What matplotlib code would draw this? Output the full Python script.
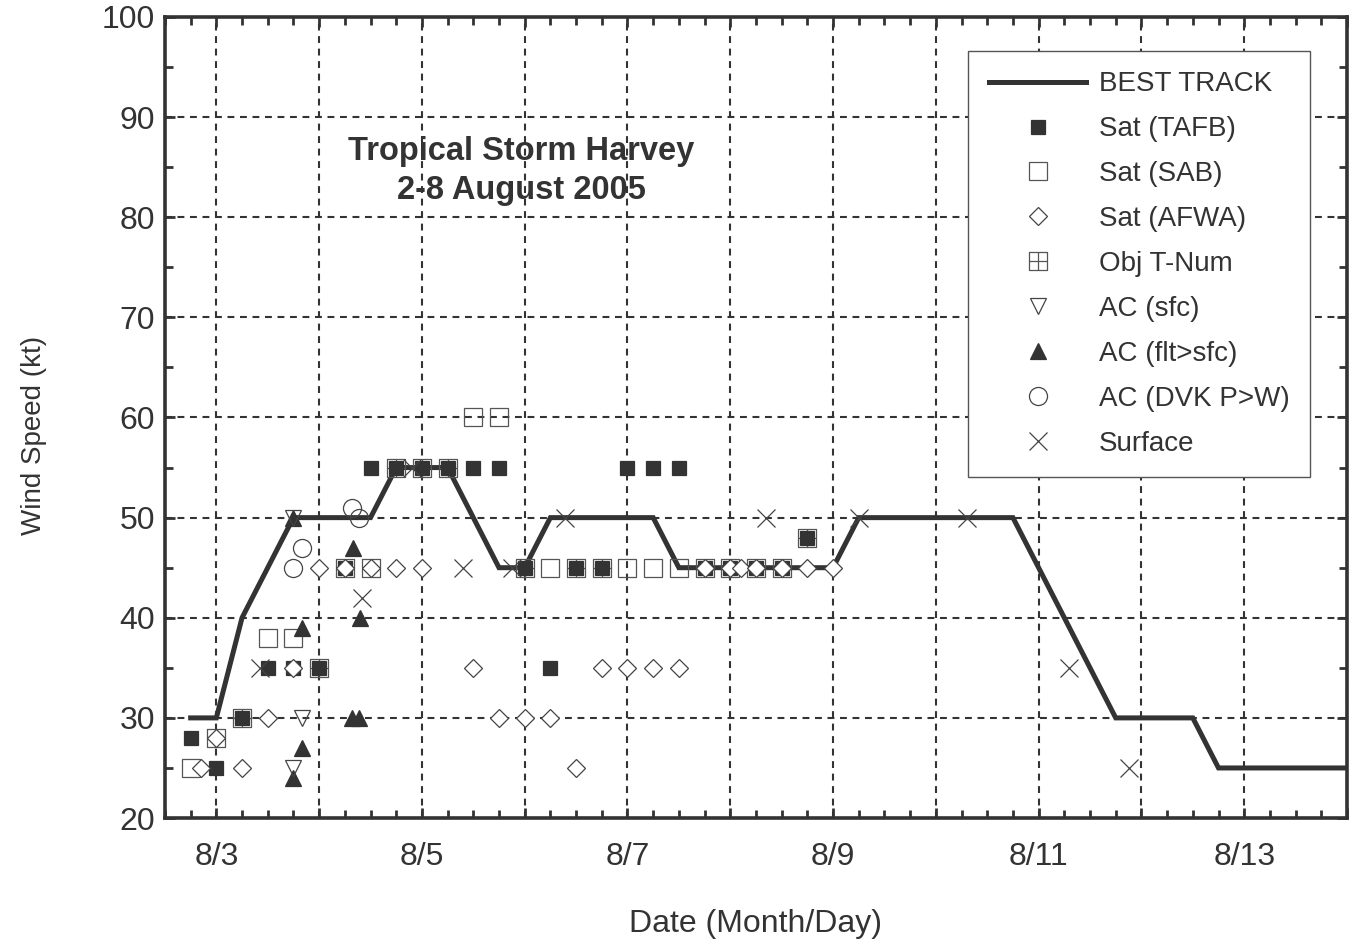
"""
Tropical Storm Harvey (2-8 August 2005) 风速观测与最佳路径对比图
"""

import matplotlib
matplotlib.use("Agg")
import matplotlib.pyplot as plt
from matplotlib.path import Path
from matplotlib.ticker import MultipleLocator, FixedLocator, FixedFormatter

plt.rcParams["font.family"] = ["Liberation Sans", "DejaVu Sans"]

# ============== 数据（日期用 8 月的小数日表示） ==============
bt_day = [2.75, 3.0, 3.25, 3.5, 3.75, 4.0, 4.25, 4.5, 4.75, 5.0, 5.25, 5.5,
          5.75, 6.0, 6.25, 6.5, 6.75, 7.0, 7.25, 7.5, 7.75, 8.0, 8.25, 8.5,
          8.75, 9.0, 9.25, 9.5, 9.75, 10.0, 10.25, 10.5, 10.75, 11.0, 11.25,
          11.5, 11.75, 12.0, 12.25, 12.5, 12.75, 13.0, 13.25, 13.5, 13.75, 14.0]
bt_wind = [30, 30, 40, 45, 50, 50, 50, 50, 55, 55, 55, 50,
           45, 45, 50, 50, 50, 50, 50, 45, 45, 45, 45, 45,
           45, 45, 50, 50, 50, 50, 50, 50, 50, 45, 40,
           35, 30, 30, 30, 30, 25, 25, 25, 25, 25, 25]

tafb_day = [2.75, 3.0, 3.25, 3.5, 3.75, 4.0, 4.25, 4.5, 4.75, 5.0, 5.25, 5.5,
            5.75, 6.0, 6.25, 6.5, 6.75, 7.0, 7.25, 7.5, 7.75, 8.0, 8.25, 8.5, 8.75]
tafb_wind = [28, 25, 30, 35, 35, 35, 45, 55, 55, 55, 55, 55,
             55, 45, 35, 45, 45, 55, 55, 55, 45, 45, 45, 45, 48]

sab_day = [2.75, 3.5, 3.75, 5.5, 5.75, 6.25, 7.0, 7.25, 7.5]
sab_wind = [25, 38, 38, 60, 60, 45, 45, 45, 45]

afwa_day = [2.85, 3.0, 3.25, 3.5, 3.75, 4.0, 4.25, 4.5, 4.75, 5.0, 5.5, 5.75,
            6.0, 6.25, 6.5, 6.75, 7.0, 7.25, 7.5, 7.75, 8.0, 8.1, 8.25, 8.5,
            8.75, 9.0]
afwa_wind = [25, 28, 25, 30, 35, 45, 45, 45, 45, 45, 35, 30,
             30, 30, 25, 35, 35, 35, 35, 45, 45, 45, 45, 45,
             45, 45]

objt_day = [3.0, 3.25, 4.0, 4.25, 4.5, 4.75, 5.0, 5.25, 6.0, 6.5, 6.75,
            7.75, 8.0, 8.25, 8.5, 8.75]
objt_wind = [28, 30, 35, 45, 45, 55, 55, 55, 45, 45, 45,
             45, 45, 45, 45, 48]

ac_sfc_day = [3.75, 3.75, 3.83]
ac_sfc_wind = [50, 25, 30]

ac_flt_day = [3.75, 3.75, 3.83, 3.83, 4.33, 4.4, 4.32, 4.39]
ac_flt_wind = [50, 24, 39, 27, 47, 40, 30, 30]

ac_dvk_day = [3.75, 3.83, 4.32, 4.39]
ac_dvk_wind = [45, 47, 51, 50]

sfc_day = [3.42, 4.42, 4.9, 5.4, 5.88, 6.39, 8.35, 9.25, 10.3, 11.3, 11.88]
sfc_wind = [35, 42, 55, 45, 45, 50, 50, 50, 50, 35, 25]

tick_days = [3, 4, 5, 6, 7, 8, 9, 10, 11, 12, 13, 14]
tick_labels = ["8/3", "", "8/5", "", "8/7", "", "8/9", "", "8/11", "", "8/13", ""]

DARK = "#333333"

# Obj T-Num 标记：带十字的方框
objt_marker = Path(
    [(-1, -1), (1, -1), (1, 1), (-1, 1), (-1, -1), (0, -1), (0, 1), (-1, 0), (1, 0)],
    [Path.MOVETO, Path.LINETO, Path.LINETO, Path.LINETO, Path.CLOSEPOLY,
     Path.MOVETO, Path.LINETO, Path.MOVETO, Path.LINETO],
)

# ============== 画布 ==============
fig = plt.figure(figsize=(13.61, 9.42), dpi=100)
ax = fig.add_axes([0.1212, 0.1316, 0.8685, 0.8504])

# 最佳路径
ax.plot(bt_day, bt_wind, color=DARK, lw=3.6, label="BEST TRACK", zorder=3,
        solid_joinstyle="miter")

mk = dict(linestyle="none", markeredgewidth=0.9)
ax.plot(tafb_day, tafb_wind, marker="s", ms=10, color=DARK, mec=DARK,
        label="Sat (TAFB)", zorder=6, **mk)
ax.plot(sab_day, sab_wind, marker="s", ms=12.5, mfc="none", mec="#555555",
        label="Sat (SAB)", zorder=5, **mk)
ax.plot(afwa_day, afwa_wind, marker="D", ms=9.5, mfc="white", mec="#444444",
        label="Sat (AFWA)", zorder=7, **mk)
ax.plot(objt_day, objt_wind, marker=objt_marker, ms=12.5, mfc="none", mec="#555555",
        label="Obj T-Num", zorder=4, **mk)
ax.plot(ac_sfc_day, ac_sfc_wind, marker="v", ms=12, mfc="none", mec="#444444",
        label="AC (sfc)", zorder=8, **mk)
ax.plot(ac_flt_day, ac_flt_wind, marker="^", ms=12, color=DARK, mec=DARK,
        label="AC (flt>sfc)", zorder=7, **mk)
ax.plot(ac_dvk_day, ac_dvk_wind, marker="o", ms=13, mfc="none", mec="#444444",
        label="AC (DVK P>W)", zorder=7, **mk)
ax.plot(sfc_day, sfc_wind, marker="x", ms=13, color="#444444",
        label="Surface", zorder=6, **mk)

# ============== 坐标轴 ==============
ax.set_xlim(2.5, 14.0)
ax.set_ylim(20, 100)
ax.xaxis.set_major_locator(FixedLocator(tick_days))
ax.xaxis.set_major_formatter(FixedFormatter(tick_labels))
ax.xaxis.set_minor_locator(MultipleLocator(0.25))
ax.yaxis.set_major_locator(MultipleLocator(10))
ax.yaxis.set_minor_locator(MultipleLocator(5))

ax.tick_params(which="both", direction="in", top=True, right=True,
               color=DARK, width=2, labelsize=23, labelcolor=DARK)
ax.tick_params(which="major", length=7)
ax.tick_params(axis="x", which="major", pad=17)
ax.tick_params(axis="y", which="major", pad=7)
ax.tick_params(which="minor", length=6)
for s in ax.spines.values():
    s.set_linewidth(2.6)
    s.set_color(DARK)

ax.grid(True, which="major", color=DARK, linestyle=(0, (3.3, 2.7)), linewidth=1.5)

ax.set_xlabel("Date (Month/Day)", fontsize=23, color=DARK, labelpad=27)
ax.set_ylabel("Wind Speed (kt)", fontsize=20, color=DARK)
ax.yaxis.set_label_coords(-0.1, 0.478)

ax.text(5.97, 84.6, "Tropical Storm Harvey\n2-8 August 2005", ha="center", va="center",
        fontsize=23.5, fontweight="bold", color=DARK, linespacing=1.35)

leg = ax.legend(loc="upper right", bbox_to_anchor=(0.969, 0.958), fontsize=20,
                frameon=True, fancybox=False, handlelength=3.5, handletextpad=0.45,
                labelspacing=0.68, borderpad=0.75, borderaxespad=0, framealpha=1)
leg.get_frame().set_edgecolor("#555555")
leg.get_frame().set_linewidth(1.0)
for t in leg.get_texts():
    t.set_color(DARK)

fig.savefig("out.png", dpi=100)
